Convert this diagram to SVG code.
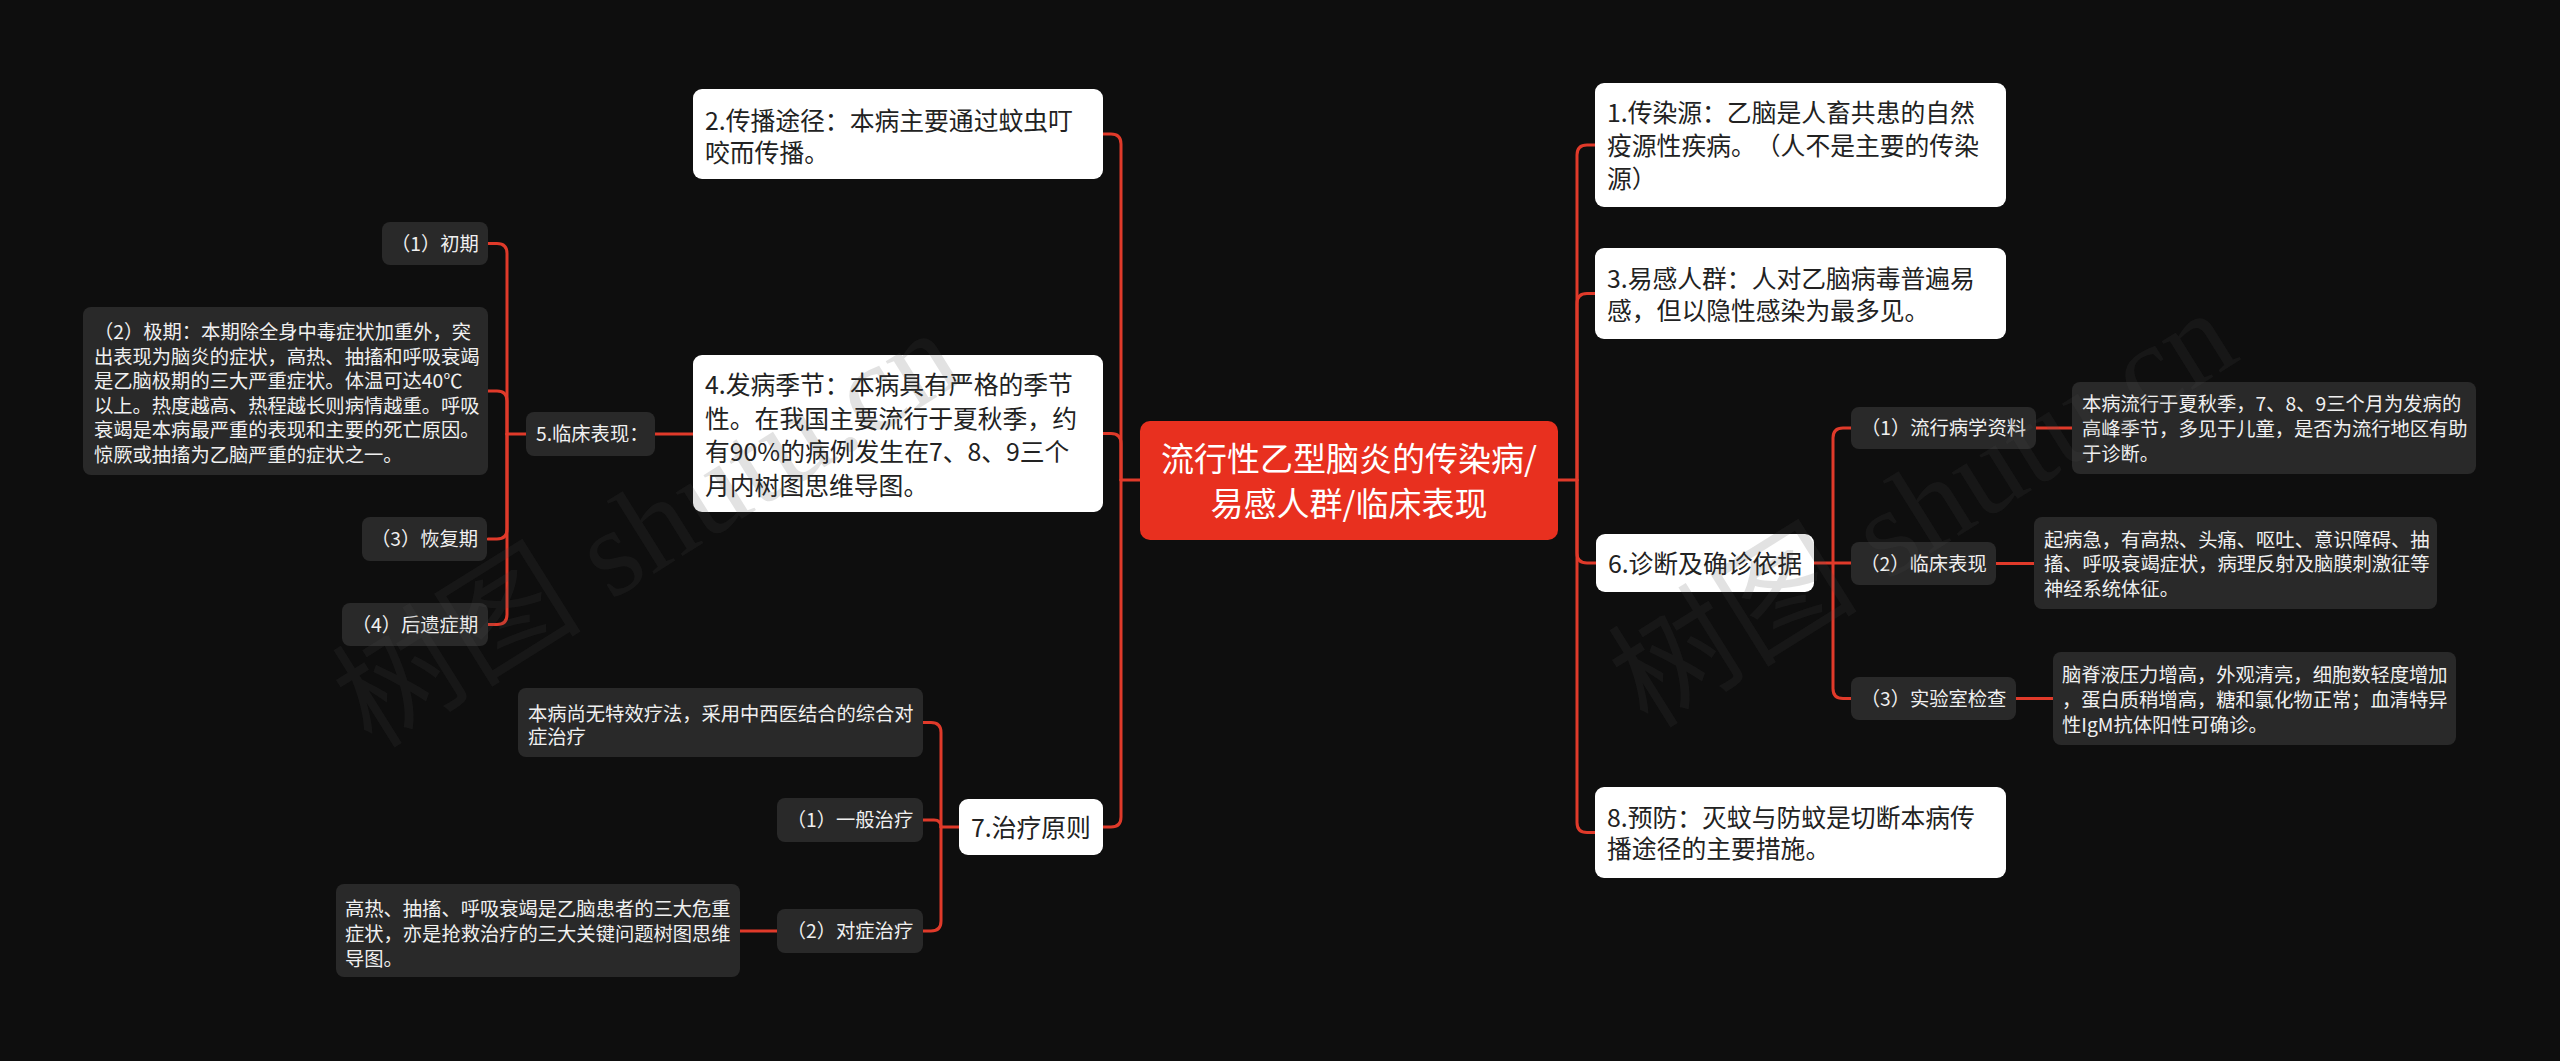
<svg xmlns="http://www.w3.org/2000/svg" width="2560" height="1061" viewBox="0 0 2560 1061">
<style>
text{font-family:"Noto Sans CJK SC","Noto Sans",sans-serif;text-spacing-trim:space-all;}
.top rect{fill:#ffffff;}
.top text{fill:#222222;font-size:24.8px;}
.sub rect{fill:#292929;}
.sub text{fill:#f0f0f0;font-size:19.3px;}
.mid{text-anchor:middle;}
.conn path{fill:none;stroke:#e03a2a;stroke-width:3;stroke-linecap:round;}
.wm{font-family:"Liberation Serif","Noto Sans CJK SC",serif;font-size:125px;fill:#4a4a4a;fill-opacity:0.16;}
</style>
<rect x="0" y="0" width="2560" height="1061" fill="#0e0e0e"/>

<g id="connectors" class="conn">
  <path d="M1140,480 H1121"/>
  <path d="M1103,134 H1111 Q1121,134 1121,144 V480"/>
  <path d="M1103,433.5 H1111 Q1121,433.5 1121,443.5 V480"/>
  <path d="M1103,827 H1111 Q1121,827 1121,817 V480"/>
  <path d="M693,434 H655"/>
  <path d="M526,434 H507"/>
  <path d="M488,243.5 H497 Q507,243.5 507,253.5 V434"/>
  <path d="M488,391 H497 Q507,391 507,401 V434"/>
  <path d="M488,539 H497 Q507,539 507,529 V434"/>
  <path d="M488,624.5 H497 Q507,624.5 507,614.5 V434"/>
  <path d="M959,827 H941"/>
  <path d="M923,722.5 H931 Q941,722.5 941,732.5 V827"/>
  <path d="M923,820 H934 Q941,820 941,827"/>
  <path d="M923,931 H931 Q941,931 941,921 V827"/>
  <path d="M777,931 H740"/>
  <path d="M1558,480 H1577"/>
  <path d="M1595,145 H1587 Q1577,145 1577,155 V480"/>
  <path d="M1595,293.5 H1587 Q1577,293.5 1577,303.5 V480"/>
  <path d="M1596,563 H1587 Q1577,563 1577,553 V480"/>
  <path d="M1595,832.5 H1587 Q1577,832.5 1577,822.5 V480"/>
  <path d="M1814,563 H1833"/>
  <path d="M1851,428 H1843 Q1833,428 1833,438 V563"/>
  <path d="M1833,563 H1851"/>
  <path d="M1851,698.5 H1843 Q1833,698.5 1833,688.5 V563"/>
  <path d="M2036,428 H2072"/>
  <path d="M1996,563.5 H2034"/>
  <path d="M2016,698.5 H2053"/>
</g>

<g id="root">
  <rect x="1140" y="421" width="418" height="119" rx="10" fill="#e8301f"/>
  <text x="1349" y="470.5" class="mid" fill="#ffffff" font-size="33">流行性乙型脑炎的传染病/</text>
  <text x="1349" y="515.5" class="mid" fill="#ffffff" font-size="33">易感人群/临床表现</text>
</g>

<g id="n2" class="top">
  <rect x="693" y="89" width="410" height="90" rx="9"/>
  <text x="705" y="129.5">2.传播途径：本病主要通过蚊虫叮</text>
  <text x="705" y="162">咬而传播。</text>
</g>
<g id="n4" class="top">
  <rect x="693" y="355" width="410" height="157" rx="9"/>
  <text x="705" y="394">4.发病季节：本病具有严格的季节</text>
  <text x="705" y="427.5">性。在我国主要流行于夏秋季，约</text>
  <text x="705" y="461">有90%的病例发生在7、8、9三个</text>
  <text x="705" y="494.5">月内树图思维导图。</text>
</g>
<g id="n7" class="top">
  <rect x="959" y="799" width="144" height="56" rx="9"/>
  <text x="1031" y="836.5" class="mid">7.治疗原则</text>
</g>

<g id="n5" class="sub">
  <rect x="526" y="412" width="129" height="44" rx="8"/>
  <text x="536" y="441.3">5.临床表现：</text>
</g>
<g id="n5-1" class="sub">
  <rect x="382" y="222" width="106" height="43" rx="8"/>
  <text x="435" y="251" class="mid">（1）初期</text>
</g>
<g id="n5-2" class="sub">
  <rect x="83" y="307" width="405" height="168" rx="8"/>
  <text x="94" y="339">（2）极期：本期除全身中毒症状加重外，突</text>
  <text x="94" y="363.5">出表现为脑炎的症状，高热、抽搐和呼吸衰竭</text>
  <text x="94" y="388">是乙脑极期的三大严重症状。体温可达40℃</text>
  <text x="94" y="412.5">以上。热度越高、热程越长则病情越重。呼吸</text>
  <text x="94" y="437">衰竭是本病最严重的表现和主要的死亡原因。</text>
  <text x="94" y="461.5">惊厥或抽搐为乙脑严重的症状之一。</text>
</g>
<g id="n5-3" class="sub">
  <rect x="362" y="517" width="125" height="44" rx="8"/>
  <text x="424.5" y="546.3" class="mid">（3）恢复期</text>
</g>
<g id="n5-4" class="sub">
  <rect x="342" y="603" width="146" height="43" rx="8"/>
  <text x="415" y="632" class="mid">（4）后遗症期</text>
</g>

<g id="n7-0" class="sub">
  <rect x="518" y="688" width="405" height="69" rx="8"/>
  <text x="528" y="720.6">本病尚无特效疗法，采用中西医结合的综合对</text>
  <text x="528" y="744">症治疗</text>
</g>
<g id="n7-1" class="sub">
  <rect x="777" y="798" width="146" height="44" rx="8"/>
  <text x="850" y="827.3" class="mid">（1）一般治疗</text>
</g>
<g id="n7-2" class="sub">
  <rect x="777" y="909" width="146" height="44" rx="8"/>
  <text x="850" y="938.3" class="mid">（2）对症治疗</text>
</g>
<g id="n7-2-1" class="sub">
  <rect x="336" y="884" width="404" height="93" rx="8"/>
  <text x="345" y="915.6">高热、抽搐、呼吸衰竭是乙脑患者的三大危重</text>
  <text x="345" y="940.6">症状，亦是抢救治疗的三大关键问题树图思维</text>
  <text x="345" y="965.6">导图。</text>
</g>

<g id="n1" class="top">
  <rect x="1595" y="83" width="411" height="124" rx="9"/>
  <text x="1607" y="121.5">1.传染源：乙脑是人畜共患的自然</text>
  <text x="1607" y="154.5">疫源性疾病。（人不是主要的传染</text>
  <text x="1607" y="187.5">源）</text>
</g>
<g id="n3" class="top">
  <rect x="1595" y="248" width="411" height="91" rx="9"/>
  <text x="1607" y="287.5">3.易感人群：人对乙脑病毒普遍易</text>
  <text x="1607" y="319.5">感，但以隐性感染为最多见。</text>
</g>
<g id="n6" class="top">
  <rect x="1596" y="534" width="218" height="58" rx="9"/>
  <text x="1705" y="572.5" class="mid">6.诊断及确诊依据</text>
</g>
<g id="n8" class="top">
  <rect x="1595" y="787" width="411" height="91" rx="9"/>
  <text x="1607" y="826.5">8.预防：灭蚊与防蚊是切断本病传</text>
  <text x="1607" y="858">播途径的主要措施。</text>
</g>

<g id="n6-1" class="sub">
  <rect x="1851" y="407" width="185" height="42" rx="8"/>
  <text x="1943.5" y="435.3" class="mid">（1）流行病学资料</text>
</g>
<g id="n6-1-1" class="sub">
  <rect x="2072" y="382" width="404" height="92" rx="8"/>
  <text x="2082" y="410.6">本病流行于夏秋季，7、8、9三个月为发病的</text>
  <text x="2082" y="435.6">高峰季节，多见于儿童，是否为流行地区有助</text>
  <text x="2082" y="461.3">于诊断。</text>
</g>
<g id="n6-2" class="sub">
  <rect x="1851" y="542" width="145" height="43" rx="8"/>
  <text x="1923.5" y="570.8" class="mid">（2）临床表现</text>
</g>
<g id="n6-2-1" class="sub">
  <rect x="2034" y="517" width="403" height="92" rx="8"/>
  <text x="2044" y="547.3">起病急，有高热、头痛、呕吐、意识障碍、抽</text>
  <text x="2044" y="570.6">搐、呼吸衰竭症状，病理反射及脑膜刺激征等</text>
  <text x="2044" y="595.6">神经系统体征。</text>
</g>
<g id="n6-3" class="sub">
  <rect x="1851" y="677" width="165" height="43" rx="8"/>
  <text x="1933.5" y="705.8" class="mid">（3）实验室检查</text>
</g>
<g id="n6-3-1" class="sub">
  <rect x="2053" y="652" width="403" height="93" rx="8"/>
  <text x="2062" y="682.3">脑脊液压力增高，外观清亮，细胞数轻度增加</text>
  <text x="2062" y="707.3">，蛋白质稍增高，糖和氯化物正常；血清特异</text>
  <text x="2062" y="732.3">性IgM抗体阳性可确诊。</text>
</g>

<g id="watermarks">
  <text class="wm" transform="translate(372,750) rotate(-32)">树图 shutu.cn</text>
  <text class="wm" transform="translate(1648,730) rotate(-32)">树图 shutu.cn</text>
</g>
</svg>
